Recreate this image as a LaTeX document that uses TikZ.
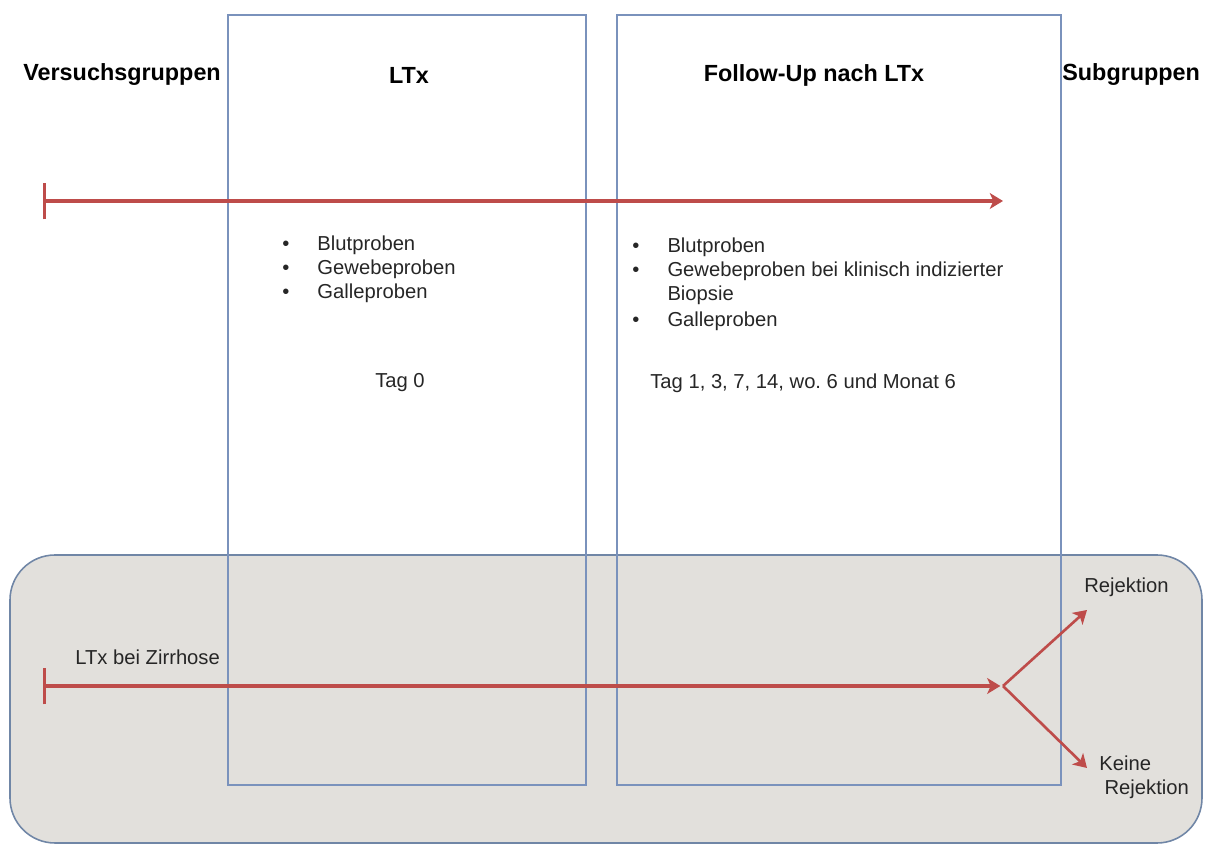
\documentclass[tikz,border=0pt]{standalone}
\usepackage{fontspec}
\setmainfont{Liberation Sans}
\usetikzlibrary{arrows.meta}
\definecolor{boxblue}{RGB}{122,146,188}
\definecolor{grpgray}{RGB}{226,224,220}
\definecolor{grpline}{RGB}{112,134,166}
\definecolor{arrred}{RGB}{190,76,74}
\tikzset{
  phase/.style={draw=boxblue, line width=0.9pt},
  timeline/.style={draw=arrred, line width=1.8pt, arrows={Bar[width=21pt]-Stealth[length=7.5pt,width=9pt,inset=2pt]}},
  branch/.style={draw=arrred, line width=1.5pt, arrows={-Stealth[length=7.5pt,width=9pt,inset=2pt]}},
  head/.style={font=\fontsize{13.3}{16}\selectfont\bfseries, inner sep=0pt},
  txt/.style={font=\fontsize{11.5}{13.6}\selectfont, inner sep=0pt, text=black!85},
}
\newcommand{\bul}{\makebox[20pt][l]{\textbullet}}

\begin{document}
\begin{tikzpicture}
			%%%%% START %%%%%
			\useasboundingbox (0, 0) rectangle (24.1, 16.92);
			
			% subgroup band
			\draw[draw=grpline, fill=grpgray, rounded corners=0.9cm, line width=0.9pt] (0.2, 0.06) rectangle (24.04, 5.82);
			
			% phases
			\draw[phase] (4.56, 1.22) rectangle (11.72, 16.62);
			\draw[phase] (12.34, 1.22) rectangle (21.22, 16.62);
			
			% headings
			\node[head, anchor=west] (versuch) at (0.46, 15.42) {Versuchsgruppen};
			\node[head] (ltx) at (8.18, 15.42) {LTx};
			\node[head] (follow) at (16.28, 15.42) {Follow-Up nach LTx};
			\node[head, anchor=west] (subgr) at (21.24, 15.42) {Subgruppen};
			
			% time lines
			\coordinate (topstart) at (0.86, 12.9);
			\coordinate (topend) at (20.06, 12.9);
			\draw[timeline] (topstart) -- (topend);
			
			\coordinate (botstart) at (0.86, 3.2);
			\coordinate (split) at (20.06, 3.2);
			\coordinate (rejtip) at (21.74, 4.72);
			\coordinate (keinetip) at (21.74, 1.56);
			\draw[timeline, shorten >=1.5pt] (botstart) -- (split);
			\draw[branch] (split) -- (rejtip);
			\draw[branch] (split) -- (keinetip);
			
			% samples
			\node[txt, anchor=north west, align=left] (ltxlist) at (5.64, 12.2) {\bul Blutproben\\ \bul Gewebeproben\\ \bul Galleproben};
			\node[txt, anchor=north west, align=left] (followlist) at (12.64, 12.16) {\bul Blutproben\\ \bul Gewebeproben bei klinisch indizierter\\ \hspace*{20pt}Biopsie\\[1pt] \bul Galleproben};
			\node[txt] (tag0) at (8.0, 9.26) {Tag 0};
			\node[txt, anchor=west] (tagfollow) at (13.0, 9.26) {Tag 1, 3, 7, 14, wo.\ 6 und Monat 6};
			
			% groups
			\node[txt, anchor=west] (zirrhose) at (1.5, 3.78) {LTx bei Zirrhose};
			\node[txt, anchor=west] (rej) at (21.68, 5.18) {Rejektion};
			\node[txt, anchor=north west, align=left] (keine) at (21.98, 1.8) {Keine\\ \hspace*{3pt}Rejektion};
			%%%%% END %%%%%
\end{tikzpicture}
\end{document}
